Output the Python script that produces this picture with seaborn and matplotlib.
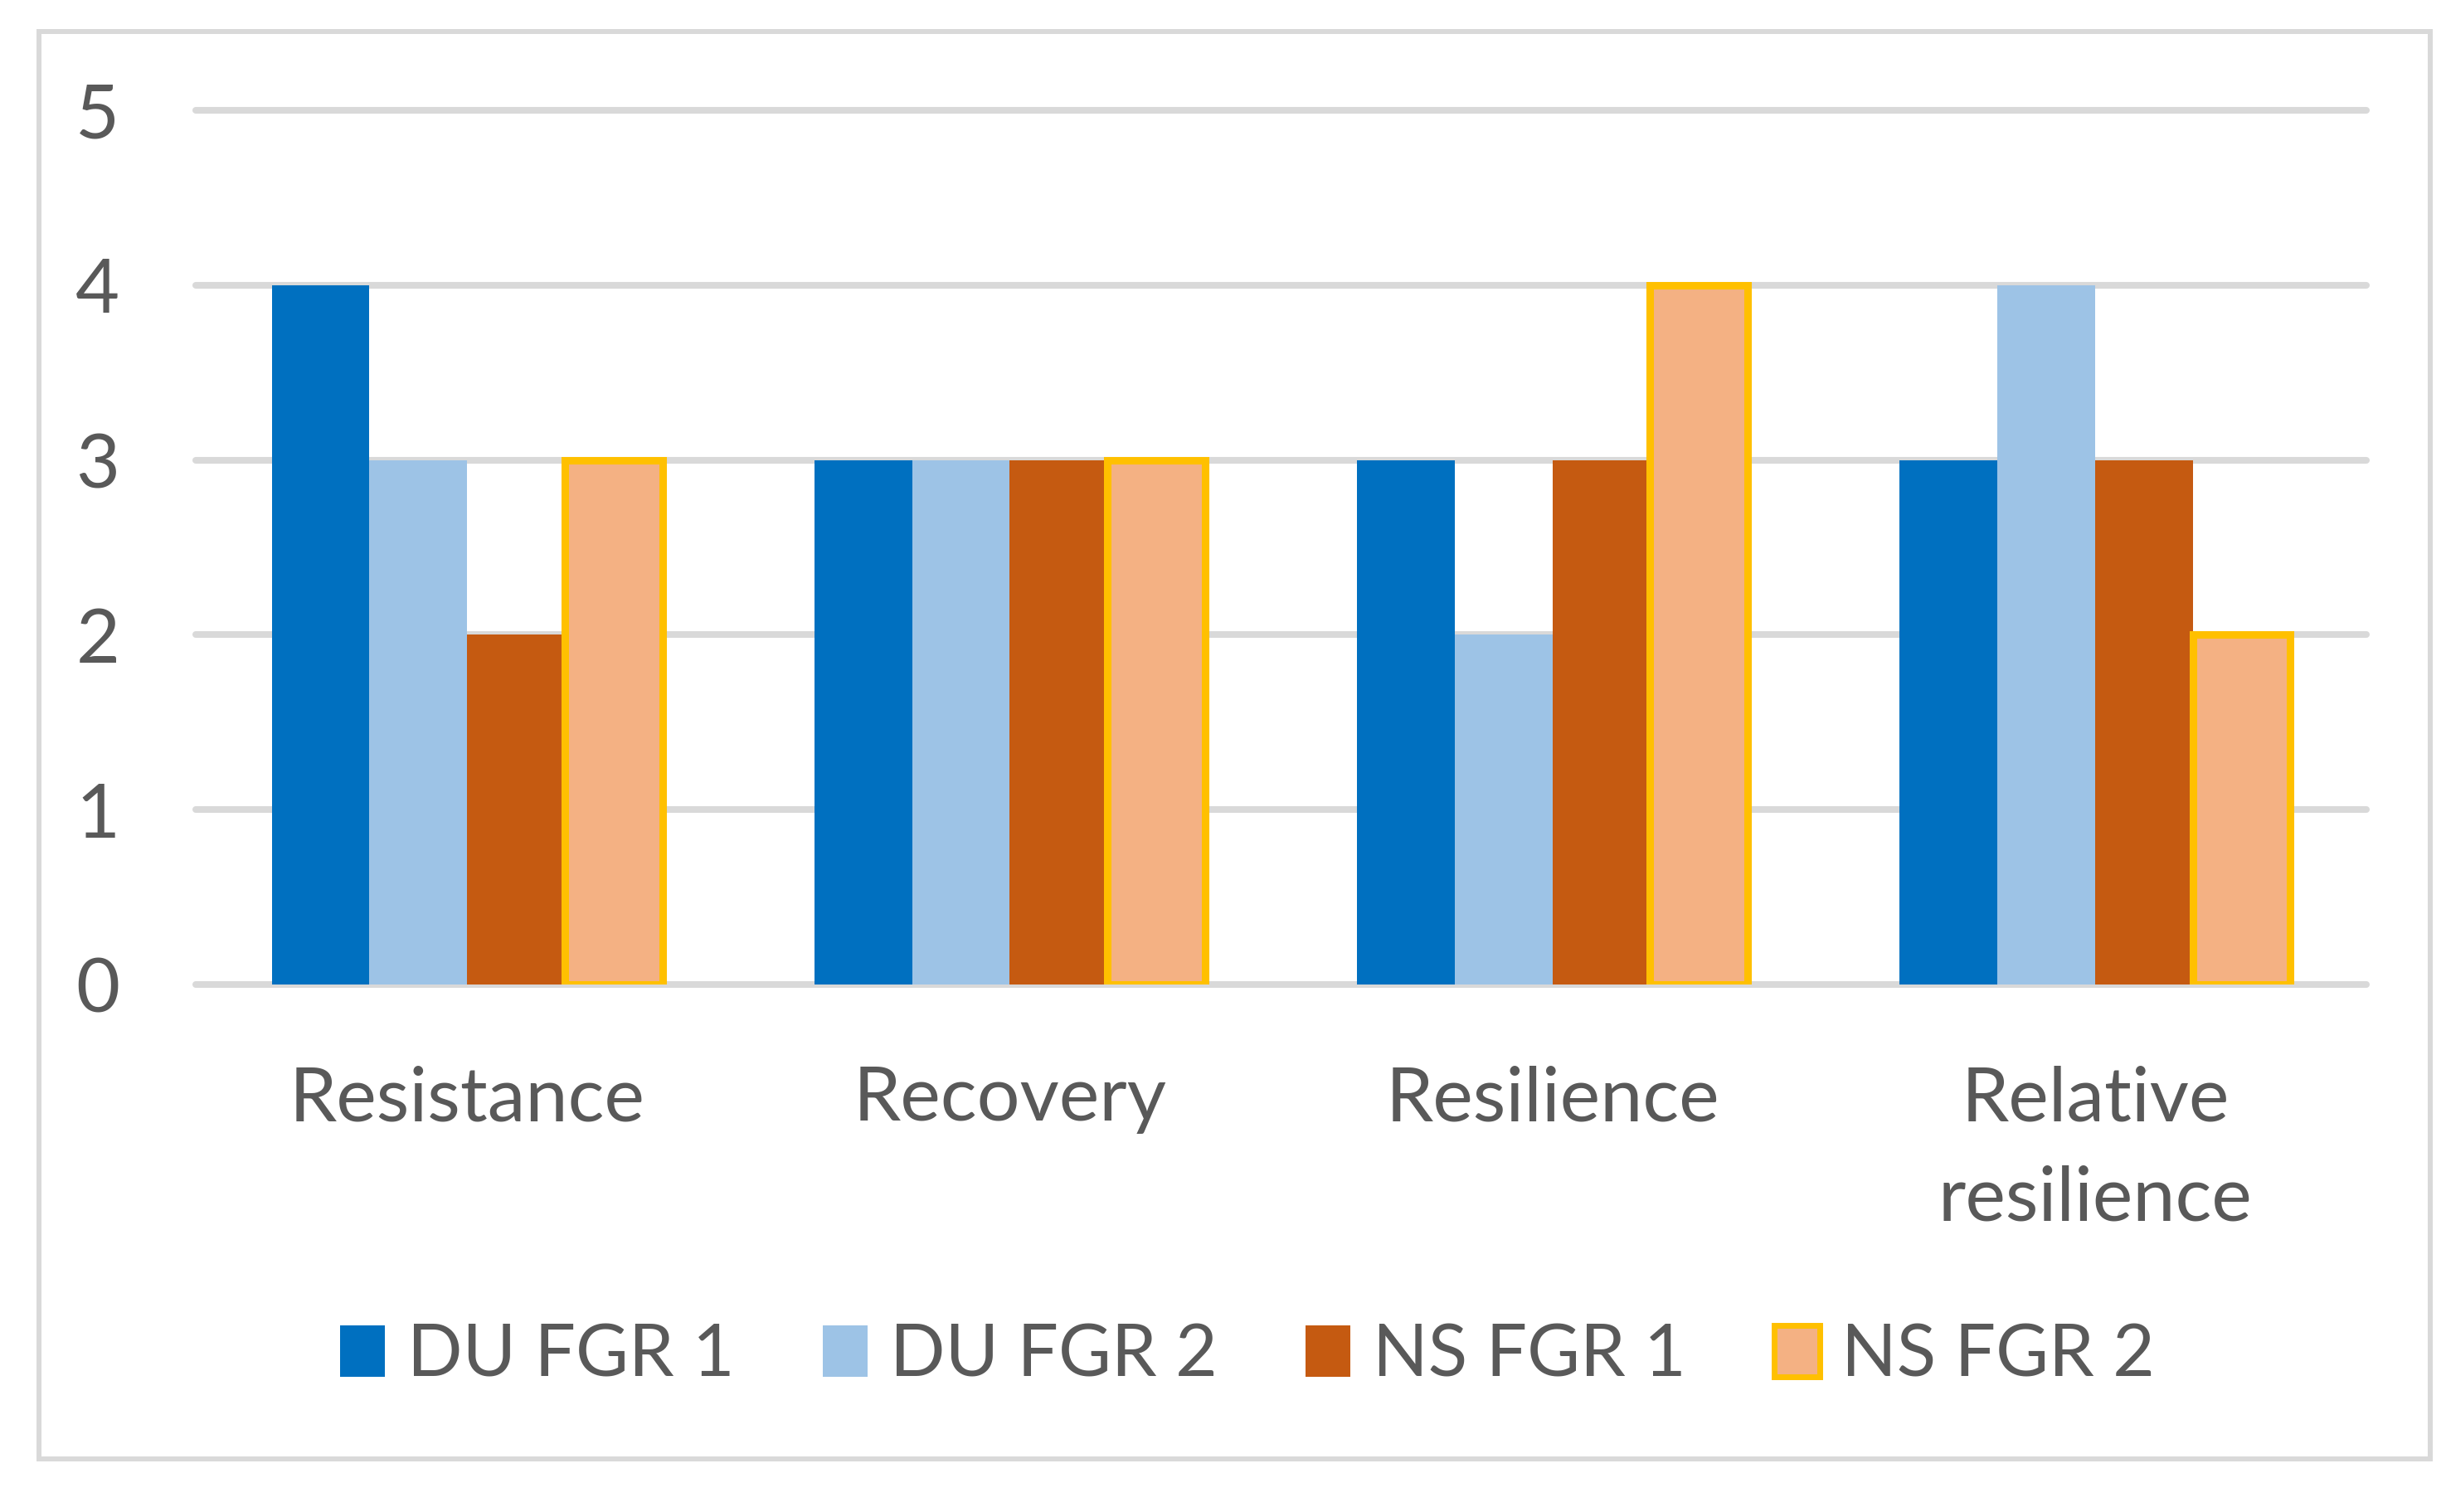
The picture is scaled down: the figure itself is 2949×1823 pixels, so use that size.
"""Grouped bar chart of resistance / recovery / resilience scores per FGR group."""
import matplotlib

matplotlib.use("Agg")

import matplotlib.pyplot as plt
import pandas as pd
import seaborn as sns
from matplotlib.patches import Patch, Rectangle

categories = ["Resistance", "Recovery", "Resilience", "Relative\nresilience"]
series_names = ["DU FGR 1", "DU FGR 2", "NS FGR 1", "NS FGR 2"]
du_fgr_1 = [4, 3, 3, 3]
du_fgr_2 = [3, 3, 2, 4]
ns_fgr_1 = [2, 3, 3, 3]
ns_fgr_2 = [3, 3, 4, 2]
y_ticks = [0, 1, 2, 3, 4, 5]

colors = ["#0070C0", "#9DC3E6", "#C55A11", "#F4B183"]
edge_gold = "#FFC000"
grid_grey = "#D9D9D9"
text_grey = "#595959"
font_size = 66


def build_frame() -> pd.DataFrame:
    """Long-form table for seaborn."""
    rows = []
    for name, values in zip(series_names, [du_fgr_1, du_fgr_2, ns_fgr_1, ns_fgr_2]):
        for category, value in zip(categories, values):
            rows.append({"category": category, "series": name, "value": value})
    return pd.DataFrame(rows)


def main() -> None:
    df = build_frame()

    sns.set_theme(style="white")
    plt.rcParams["font.family"] = ["Lato", "DejaVu Sans"]

    fig = plt.figure(figsize=(29.49, 18.23), dpi=100)
    ax = fig.add_axes([0.08003, 0.34887, 0.88742, 0.57817])

    sns.barplot(
        data=df,
        x="category",
        y="value",
        hue="series",
        order=categories,
        hue_order=series_names,
        palette=colors,
        width=0.72,
        saturation=1,
        linewidth=0,
        errorbar=None,
        legend=False,
        ax=ax,
    )
    for bar in ax.containers[3]:
        bar.set_edgecolor(edge_gold)
        bar.set_linewidth(6.5)

    ax.set_xlim(-0.5, 3.5)
    ax.set_ylim(0, 5)
    ax.set_yticks(y_ticks)
    ax.set_xlabel("")
    ax.set_ylabel("")
    sns.despine(ax=ax, left=True, bottom=True)

    ax.grid(axis="y", color=grid_grey, linewidth=5.8)
    ax.grid(axis="x", visible=False)
    ax.set_axisbelow(True)
    for line in ax.get_ygridlines():
        line.set_clip_on(False)

    ax.tick_params(axis="both", length=0, labelsize=font_size, labelcolor=text_grey)
    ax.tick_params(axis="x", pad=70)
    ax.tick_params(axis="y", pad=66)
    for label in ax.get_xticklabels():
        label.set_linespacing(1.56)

    handles = [Patch(facecolor=c, edgecolor="none") for c in colors[:3]]
    handles.append(Patch(facecolor=colors[3], edgecolor=edge_gold, linewidth=5))
    fig.legend(
        handles,
        series_names,
        loc="center",
        bbox_to_anchor=(0.51, 0.103),
        ncol=4,
        frameon=False,
        fontsize=63,
        labelcolor=text_grey,
        handlelength=0.62,
        handleheight=0.7,
        handletextpad=0.3,
        columnspacing=1.22,
    )

    fig.patches.append(
        Rectangle(
            (47 / 2949, 1 - 1759 / 1823),
            (2930 - 47) / 2949,
            (1759 - 38) / 1823,
            transform=fig.transFigure,
            fill=False,
            edgecolor=grid_grey,
            linewidth=4.3,
        )
    )

    fig.savefig("out.png", dpi=100)
    plt.close(fig)


if __name__ == "__main__":
    main()
